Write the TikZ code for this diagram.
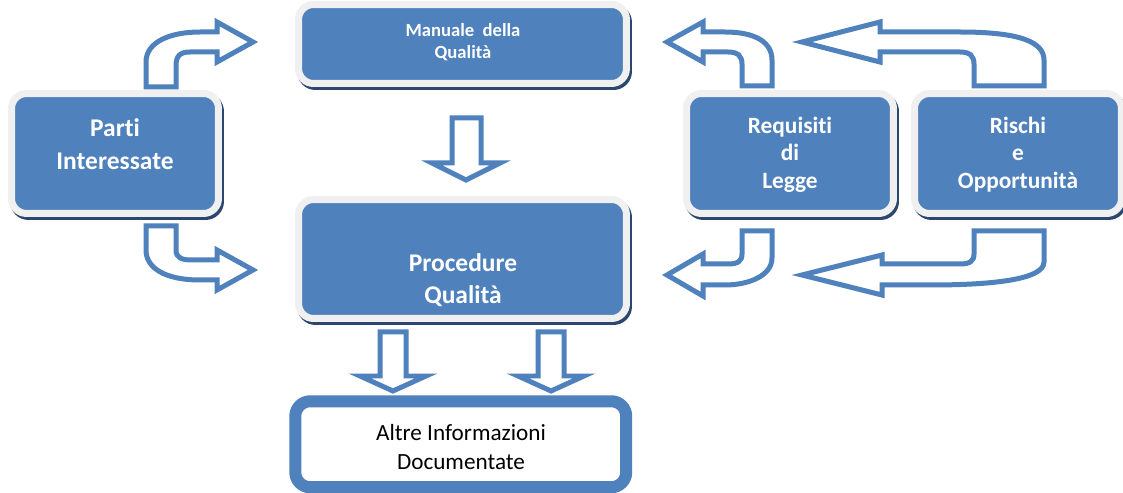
\documentclass[tikz,border=0pt]{standalone}
\usepackage{fontspec}
\setmainfont{Carlito}[Ligatures={NoCommon}]
\definecolor{boxblue}{HTML}{4F81BD}
\definecolor{rimgray}{HTML}{F0F0F0}
\definecolor{shadowblue}{HTML}{2B4770}
\begin{document}
\begin{tikzpicture}[x=0.02cm,y=-0.02cm,
  bluebox/.style={rectangle, rounded corners=0.3cm, fill=boxblue, draw=rimgray,
    line width=0.14cm, inner sep=0pt,
    preaction={fill=shadowblue, draw=shadowblue, transform canvas={xshift=0.04cm, yshift=-0.06cm}}},
  whitebox/.style={rectangle, rounded corners=0.3cm, fill=white, draw=boxblue,
    line width=0.24cm, inner sep=0pt},
  bigtext/.style={text=white, align=center, font=\bfseries\fontsize{14.5}{18.5}\selectfont},
  midtext/.style={text=white, align=center, font=\bfseries\fontsize{13.3}{15.6}\selectfont},
  smalltext/.style={text=white, align=center, font=\bfseries\fontsize{10.6}{12.5}\selectfont},
  plaintext/.style={text=black, align=center, font=\fontsize{13.2}{16.4}\selectfont},
  blockarrow/.style={draw=boxblue, line width=0.1cm, fill=white, line join=miter}]
\useasboundingbox (0,0) rectangle (1123,493);
\fill[white] (0,0) rectangle (1123,493);

% arrows
\draw[blockarrow] (146,87) -- (146,62) .. controls (146,42) and (170,32) .. (200,32) -- (217,32) -- (217,22) -- (253,42) -- (217,62) -- (217,52) -- (190,52) .. controls (180,52) and (176,56) .. (176,66) -- (176,87) -- cycle;
\draw[blockarrow] (146,226) -- (176,226) -- (176,250) .. controls (176,258) and (182,260) .. (192,260) -- (217,260) -- (217,250) -- (253,270) -- (217,290) -- (217,280) -- (200,280) .. controls (165,280) and (146,268) .. (146,250) -- cycle;
\draw[blockarrow] (742,86) -- (742,64) .. controls (742,56) and (738,52) .. (728,52) -- (703,52) -- (703,62) -- (667,42) -- (703,22) -- (703,32) -- (725,32) .. controls (755,32) and (772,42) .. (772,60) -- (772,86) -- cycle;
\draw[blockarrow] (974,86) -- (974,64) .. controls (974,56) and (970,52) .. (960,52) -- (880,52) -- (880,62) -- (802,42) -- (880,22) -- (880,32) -- (960,32) .. controls (1020,32) and (1044,42) .. (1044,60) -- (1044,86) -- cycle;
\draw[blockarrow] (742,231) -- (772,231) -- (772,258) .. controls (772,276) and (748,285) .. (725,285) -- (703,285) -- (703,296) -- (667,275) -- (703,254) -- (703,264) -- (728,264) .. controls (738,264) and (742,261) .. (742,254) -- cycle;
\draw[blockarrow] (974,231) -- (1044,231) -- (1044,262) .. controls (1044,280) and (990,285) .. (930,285) -- (882,285) -- (882,295) -- (802,275) -- (882,255) -- (882,264) -- (960,264) .. controls (970,264) and (974,261) .. (974,254) -- cycle;
\draw[blockarrow] (452,118) -- (481,118) -- (481,163) -- (500,163) -- (466,180) -- (432,163) -- (452,163) -- cycle;
\draw[blockarrow] (380,332) -- (406,332) -- (406,376) -- (426,376) -- (393,391) -- (360,376) -- (380,376) -- cycle;
\draw[blockarrow] (538,332) -- (564,332) -- (564,376) -- (584,376) -- (551,391) -- (518,376) -- (538,376) -- cycle;

% boxes
\node[bluebox, minimum width=4.14cm, minimum height=2.4cm] (parti) at (115,153.5) {};
\node[bluebox, minimum width=6.56cm, minimum height=1.58cm] (manuale) at (462.5,44) {};
\node[bluebox, minimum width=6.56cm, minimum height=2.38cm] (procedure) at (462.5,259) {};
\node[bluebox, minimum width=4.14cm, minimum height=2.4cm] (requisiti) at (790,153.5) {};
\node[bluebox, minimum width=4.14cm, minimum height=2.4cm] (rischi) at (1018,153.5) {};
\node[whitebox, minimum width=6.62cm, minimum height=1.72cm] (altre) at (460.75,444.25) {};

% texts
\node[bigtext] (partit) at (115,144) {Parti\\Interessate};
\node[smalltext] (manualet) at (463,42) {Manuale\ \ della\\Qualità};
\node[bigtext] (proceduret) at (463,280) {Procedure\\Qualità};
\node[midtext] (requisitit) at (790,154.5) {Requisiti\\di\\Legge};
\node[midtext] (rischit) at (1018,154.5) {Rischi\\e\\Opportunità};
\node[plaintext] (altret) at (461,447) {Altre Informazioni\\Documentate};
\end{tikzpicture}
\end{document}
